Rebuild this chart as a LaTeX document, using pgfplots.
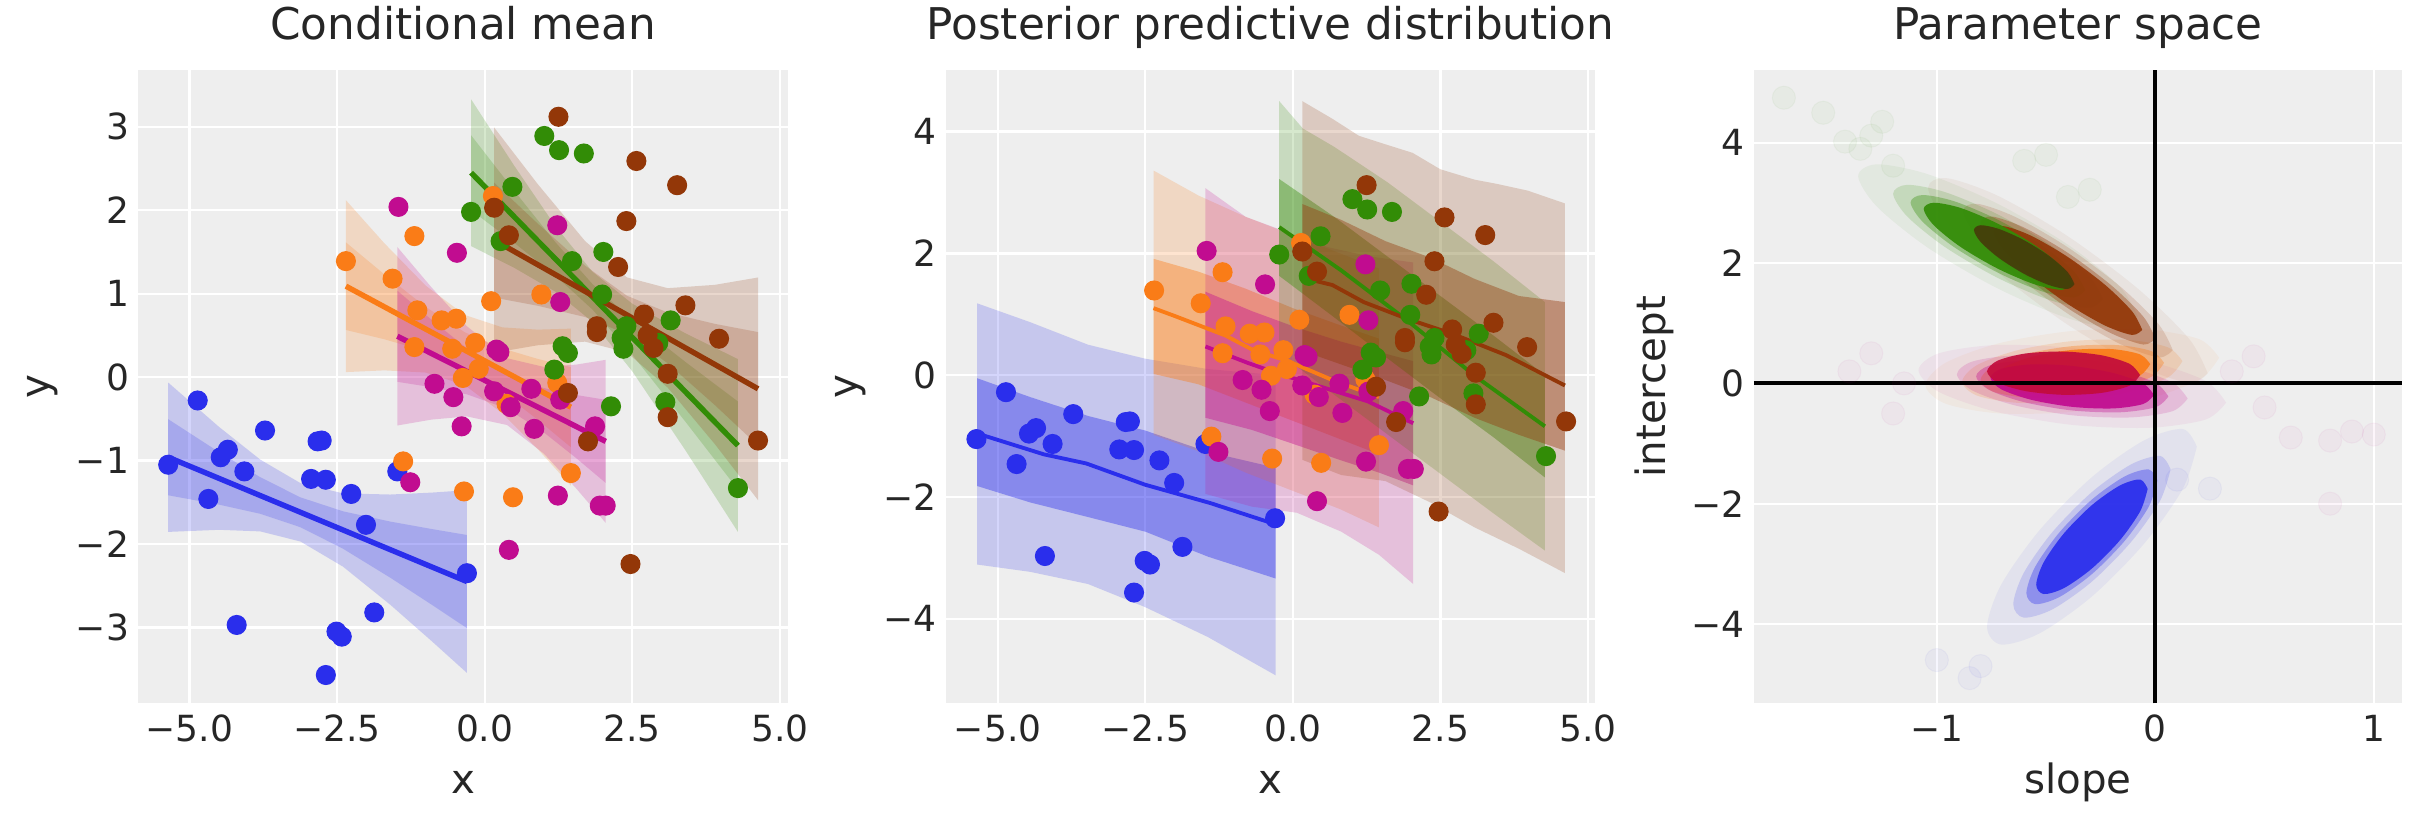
\documentclass[border=0pt]{standalone}
\usepackage{fontspec}
\setmainfont{DejaVu Sans}
\usepackage{pgfplots}
\pgfplotsset{compat=1.18}
\definecolor{c0}{HTML}{2A2EEC}
\definecolor{c1}{HTML}{FA7C17}
\definecolor{c2}{HTML}{328C06}
\definecolor{c3}{HTML}{C10C90}
\definecolor{c4}{HTML}{933708}
\definecolor{bg}{HTML}{EEEEEE}
\definecolor{txt}{HTML}{262626}
\definecolor{olive}{HTML}{463C0A}
\definecolor{redm}{HTML}{C20C3C}
\pgfplotsset{
  base/.style={anchor=south west, scale only axis, height=246.3pt,
    axis background/.style={fill=bg},
    axis line style={draw=none},
    xmajorgrids, ymajorgrids,
    major grid style={white, line width=0.9pt},
    major tick length=0pt,
    tick label style={color=txt, font=\fontsize{14}{17}\selectfont},
    xticklabel style={anchor=base, yshift=-14.9pt},
    title style={at={([yshift=5.8pt]axis description cs:0.5,1)}, anchor=base, color=txt, font=\fontsize{17}{20}\selectfont},
    xlabel style={at={([yshift=-35pt]axis description cs:0.5,0)}, anchor=base, color=txt, font=\fontsize{15.7}{19}\selectfont},
    ylabel style={at={([xshift=-34.5pt]axis description cs:0,0.5)}, anchor=base, color=txt, font=\fontsize{15.7}{19}\selectfont},
  },
  pts/.style={only marks, mark=*, mark size=3.7pt},
  band/.style={draw=none, fill=#1, fill opacity=0.2},
  bandi/.style={draw=none, fill=#1, fill opacity=0.4},
  cl/.style={draw=none, fill=#1, smooth},
}
\begin{document}
\begin{tikzpicture}
\useasboundingbox (0,0) rectangle (942.3pt,320.1pt);
% ================= Panel 1 =================
\begin{axis}[base, at={(53.7pt,46.55pt)}, width=252.8pt,
  xmin=-5.87, xmax=5.14, ymin=-3.91, ymax=3.68,
  xtick={-5,-2.5,0,2.5,5}, xticklabels={−5.0,−2.5,0.0,2.5,5.0},
  ytick={-3,-2,-1,0,1,2,3}, yticklabels={−3,−2,−1,0,1,2,3},
  title={Conditional mean}, xlabel={x}, ylabel={y}]
% blue
\addplot[pts, c0] coordinates {(-5.36,-1.05) (-4.86,-0.28) (-4.68,-1.46) (-4.47,-0.96) (-4.35,-0.87) (-4.07,-1.13) (-4.20,-2.97) (-3.72,-0.64) (-2.94,-1.22) (-2.83,-0.77) (-2.76,-0.76) (-2.69,-1.23) (-2.69,-3.57) (-2.51,-3.05) (-2.42,-3.11) (-2.26,-1.40) (-2.01,-1.77) (-1.87,-2.82) (-1.48,-1.13) (-0.30,-2.35)};
\addplot[band=c0] coordinates {(-5.36,-0.065) (-4.5,-0.596) (-3.8,-0.989) (-3.12,-1.270) (-2.4,-1.393) (-1.6,-1.407) (-0.9,-1.384) (-0.30,-1.355) (-0.30,-3.545) (-0.9,-3.162) (-1.6,-2.727) (-2.4,-2.271) (-3.12,-1.970) (-3.8,-1.849) (-4.5,-1.830) (-5.36,-1.855)};
\addplot[band=c0] coordinates {(-5.36,-0.504) (-4.5,-0.898) (-3.8,-1.200) (-3.12,-1.441) (-2.4,-1.608) (-1.6,-1.731) (-0.9,-1.820) (-0.30,-1.892) (-0.30,-3.008) (-0.9,-2.726) (-1.6,-2.403) (-2.4,-2.056) (-3.12,-1.799) (-3.8,-1.638) (-4.5,-1.528) (-5.36,-1.416)};
% orange
\addplot[pts, c1] coordinates {(-2.35,1.39) (-1.19,1.69) (-1.56,1.18) (-1.14,0.80) (-0.73,0.68) (-0.48,0.70) (-1.19,0.36) (-0.55,0.34) (-0.16,0.41) (-0.10,0.10) (-0.37,-0.01) (0.11,0.91) (0.14,2.17) (0.96,0.99) (1.23,-0.07) (0.37,-0.32) (-1.38,-1.01) (-0.35,-1.37) (0.48,-1.44) (1.46,-1.15)};
\addplot[band=c1] coordinates {(-2.35,2.12) (-1.7,1.605) (-1.0,1.097) (-0.34,0.745) (0.3,0.596) (0.9,0.569) (1.46,0.581) (1.46,-1.301) (0.9,-0.863) (0.3,-0.434) (-0.34,-0.095) (-1.0,0.055) (-1.7,0.081) (-2.35,0.06)};
\addplot[band=c1] coordinates {(-2.35,1.615) (-1.7,1.232) (-1.0,0.842) (-0.34,0.539) (0.3,0.344) (0.9,0.218) (1.46,0.120) (1.46,-0.840) (0.9,-0.512) (0.3,-0.182) (-0.34,0.111) (-1.0,0.310) (-1.7,0.454) (-2.35,0.565)};
% magenta
\addplot[pts, c3] coordinates {(-1.46,2.04) (-0.47,1.49) (1.23,1.82) (1.28,0.90) (0.20,0.33) (0.25,0.30) (-0.85,-0.08) (-0.53,-0.24) (0.16,-0.17) (0.79,-0.14) (0.44,-0.36) (-0.39,-0.59) (0.84,-0.62) (1.28,-0.27) (1.87,-0.59) (1.24,-1.42) (2.05,-1.54) (1.95,-1.54) (-1.26,-1.26) (0.41,-2.07)};
\addplot[band=c3] coordinates {(-1.48,1.56) (-0.9,1.075) (-0.3,0.609) (0.38,0.226) (1.0,0.123) (1.55,0.150) (2.05,0.207) (2.05,-1.747) (1.55,-1.334) (1.0,-0.915) (0.38,-0.574) (-0.3,-0.471) (-0.9,-0.509) (-1.48,-0.58)};
\addplot[band=c3] coordinates {(-1.48,1.036) (-0.9,0.687) (-0.3,0.344) (0.38,0.030) (1.0,-0.131) (1.55,-0.214) (2.05,-0.272) (2.05,-1.268) (1.55,-0.970) (1.0,-0.661) (0.38,-0.378) (-0.3,-0.206) (-0.9,-0.121) (-1.48,-0.056)};
% green
\addplot[pts, c2] coordinates {(1.01,2.89) (1.26,2.72) (1.68,2.68) (0.47,2.28) (-0.23,1.98) (0.27,1.63) (1.48,1.39) (2.01,1.50) (1.99,0.99) (2.40,0.61) (3.15,0.68) (2.32,0.47) (2.35,0.34) (1.32,0.37) (1.41,0.29) (1.18,0.09) (2.94,0.41) (2.14,-0.35) (3.06,-0.30) (4.29,-1.33)};
\addplot[band=c2] coordinates {(-0.23,3.33) (0.5,2.534) (1.2,1.807) (1.825,1.263) (2.5,0.880) (3.4,0.525) (4.29,0.216) (4.29,-1.856) (3.4,-0.877) (2.5,0.070) (1.825,0.663) (1.2,1.023) (0.5,1.310) (-0.23,1.57)};
\addplot[band=c2] coordinates {(-0.23,2.899) (0.5,2.234) (1.2,1.615) (1.825,1.116) (2.5,0.682) (3.4,0.182) (4.29,-0.292) (4.29,-1.348) (3.4,-0.534) (2.5,0.268) (1.825,0.810) (1.2,1.215) (0.5,1.610) (-0.23,2.001)};
% brown
\addplot[pts, c4] coordinates {(1.25,3.12) (2.57,2.59) (3.26,2.30) (2.40,1.87) (0.16,2.03) (0.41,1.70) (2.26,1.32) (3.40,0.86) (2.70,0.75) (1.90,0.61) (1.90,0.54) (2.76,0.50) (2.86,0.35) (3.97,0.46) (3.10,0.04) (1.41,-0.19) (1.75,-0.77) (3.10,-0.48) (4.63,-0.76) (2.47,-2.24)};
\addplot[band=c4] coordinates {(0.16,2.992) (0.9,2.312) (1.7,1.631) (2.41,1.195) (3.1,1.066) (3.9,1.106) (4.63,1.194) (4.63,-1.474) (3.9,-0.804) (3.1,-0.126) (2.41,0.295) (1.7,0.425) (0.9,0.382) (0.16,0.292)};
\addplot[band=c4] coordinates {(0.16,2.331) (0.9,1.839) (1.7,1.336) (2.41,0.975) (3.1,0.774) (3.9,0.638) (4.63,0.540) (4.63,-0.820) (3.9,-0.336) (3.1,0.166) (2.41,0.515) (1.7,0.720) (0.9,0.855) (0.16,0.953)};
% mean lines
\addplot[c0, line width=2.1pt] coordinates {(-5.36,-0.96) (-0.30,-2.45)};
\addplot[c1, line width=2.1pt] coordinates {(-2.35,1.09) (1.46,-0.36)};
\addplot[c3, line width=2.1pt] coordinates {(-1.48,0.49) (2.05,-0.77)};
\addplot[c2, line width=2.1pt] coordinates {(-0.23,2.45) (4.29,-0.82)};
\addplot[c4, line width=2.1pt] coordinates {(0.14,1.65) (4.63,-0.14)};
\end{axis}
% ================= Panel 2 =================
\begin{axis}[base, at={(367.8pt,46.55pt)}, width=252.5pt,
  xmin=-5.88, xmax=5.12, ymin=-5.39, ymax=5.01,
  xtick={-5,-2.5,0,2.5,5}, xticklabels={−5.0,−2.5,0.0,2.5,5.0},
  ytick={-4,-2,0,2,4}, yticklabels={−4,−2,0,2,4},
  title={Posterior predictive distribution}, xlabel={x}, ylabel={y}]
% blue
\addplot[pts, c0] coordinates {(-5.36,-1.05) (-4.86,-0.28) (-4.68,-1.46) (-4.47,-0.96) (-4.35,-0.87) (-4.07,-1.13) (-4.20,-2.97) (-3.72,-0.64) (-2.94,-1.22) (-2.83,-0.77) (-2.76,-0.76) (-2.69,-1.23) (-2.69,-3.57) (-2.51,-3.05) (-2.42,-3.11) (-2.26,-1.40) (-2.01,-1.77) (-1.87,-2.82) (-1.48,-1.13) (-0.30,-2.35)};
\addplot[band=c0] coordinates {(-5.35,1.18) (-4.45,0.87) (-3.47,0.50) (-2.5,0.27) (-1.44,0.10) (-0.29,0.00) (-0.29,-4.93) (-1.44,-4.30) (-2.5,-3.81) (-3.47,-3.43) (-4.45,-3.23) (-5.35,-3.11)};
\addplot[bandi=c0] coordinates {(-5.35,-0.05) (-4.45,-0.36) (-3.47,-0.67) (-2.5,-0.91) (-1.44,-1.26) (-0.29,-1.52) (-0.29,-3.34) (-1.44,-2.98) (-2.5,-2.57) (-3.47,-2.33) (-4.45,-2.09) (-5.35,-1.82)};
% orange
\addplot[pts, c1] coordinates {(-2.35,1.39) (-1.19,1.69) (-1.56,1.18) (-1.14,0.80) (-0.73,0.68) (-0.48,0.70) (-1.19,0.36) (-0.55,0.34) (-0.16,0.41) (-0.10,0.10) (-0.37,-0.01) (0.11,0.91) (0.14,2.17) (0.96,0.99) (1.23,-0.07) (0.37,-0.32) (-1.38,-1.01) (-0.35,-1.37) (0.48,-1.44) (1.46,-1.15)};
\addplot[band=c1] coordinates {(-2.36,3.36) (-1.6,2.95) (-0.8,2.60) (0,2.30) (0.8,2.00) (1.46,1.75) (1.46,-2.50) (0.8,-2.20) (0,-1.90) (-0.8,-1.60) (-1.6,-1.25) (-2.36,-0.98)};
\addplot[bandi=c1] coordinates {(-2.36,1.91) (-1.6,1.70) (-0.8,1.42) (0,1.10) (0.8,0.82) (1.46,0.60) (1.46,-1.30) (0.8,-1.05) (0,-0.75) (-0.8,-0.45) (-1.6,-0.15) (-2.36,0.02)};
% magenta
\addplot[pts, c3] coordinates {(-1.46,2.04) (-0.47,1.49) (1.23,1.82) (1.28,0.90) (0.20,0.33) (0.25,0.30) (-0.85,-0.08) (-0.53,-0.24) (0.16,-0.17) (0.79,-0.14) (0.44,-0.36) (-0.39,-0.59) (0.84,-0.62) (1.28,-0.27) (1.87,-0.59) (1.24,-1.42) (2.05,-1.54) (1.95,-1.54) (-1.26,-1.26) (0.41,-2.07)};
\addplot[band=c3] coordinates {(-1.48,3.07) (-0.8,2.60) (-0.1,2.35) (0.6,2.10) (1.3,1.95) (2.04,1.85) (2.04,-3.43) (1.46,-2.95) (0.82,-2.57) (0.07,-2.26) (-0.69,-2.16) (-1.48,-1.95)};
\addplot[bandi=c3] coordinates {(-1.48,1.37) (-0.69,1.05) (0.07,0.78) (0.82,0.55) (1.46,0.38) (2.04,0.23) (2.04,-1.81) (1.46,-1.60) (0.82,-1.40) (0.07,-1.15) (-0.69,-0.90) (-1.48,-0.70)};
% green
\addplot[pts, c2] coordinates {(1.01,2.89) (1.26,2.72) (1.68,2.68) (0.47,2.28) (-0.23,1.98) (0.27,1.63) (1.48,1.39) (2.01,1.50) (1.99,0.99) (2.40,0.61) (3.15,0.68) (2.32,0.47) (2.35,0.34) (1.32,0.37) (1.41,0.29) (1.18,0.09) (2.94,0.41) (2.14,-0.35) (3.06,-0.30) (4.29,-1.33)};
\addplot[band=c2] coordinates {(-0.23,4.50) (0.17,4.05) (0.7,3.75) (1.6,3.17) (2.5,2.52) (3.4,1.87) (4.27,1.20) (4.27,-2.88) (3.4,-2.27) (2.5,-1.62) (1.6,-0.97) (0.7,-0.32) (-0.23,0.36)};
\addplot[bandi=c2] coordinates {(-0.23,3.22) (0.7,2.60) (1.6,1.95) (2.5,1.30) (3.4,0.65) (4.27,0.00) (4.27,-1.68) (3.4,-1.02) (2.5,-0.38) (1.6,0.28) (0.7,0.95) (-0.23,1.63)};
% brown
\addplot[pts, c4] coordinates {(1.25,3.12) (2.57,2.59) (3.26,2.30) (2.40,1.87) (0.16,2.03) (0.41,1.70) (2.26,1.32) (3.40,0.86) (2.70,0.75) (1.90,0.61) (1.90,0.54) (2.76,0.50) (2.86,0.35) (3.97,0.46) (3.10,0.04) (1.41,-0.19) (1.75,-0.77) (3.10,-0.48) (4.63,-0.76) (2.47,-2.24)};
\addplot[band=c4] coordinates {(0.16,4.50) (0.67,4.21) (1.12,3.93) (1.57,3.79) (2.03,3.65) (2.50,3.38) (3.08,3.21) (3.46,3.14) (3.98,3.03) (4.61,2.82) (4.61,-3.25) (3.83,-2.85) (3.08,-2.50) (2.33,-2.09) (1.57,-1.74) (0.82,-1.64) (0.16,-1.39)};
\addplot[bandi=c4] coordinates {(0.16,2.81) (0.82,2.55) (1.57,2.20) (2.33,1.93) (3.08,1.58) (3.83,1.30) (4.61,1.20) (4.61,-1.24) (3.83,-0.98) (3.08,-0.70) (2.33,-0.36) (1.57,-0.08) (0.16,0.40)};
% mean lines
\addplot[c0, line width=1.5pt] coordinates {(-5.34,-0.96) (-4.22,-1.30) (-3.5,-1.45) (-2.5,-1.80) (-1.4,-2.10) (-0.29,-2.45)};
\addplot[c1, line width=1.5pt] coordinates {(-2.36,1.10) (-1.97,0.96) (-1.14,0.65) (-0.69,0.42) (-0.08,0.23) (0.67,-0.08) (1.46,-0.36)};
\addplot[c3, line width=1.5pt] coordinates {(-1.48,0.47) (-0.76,0.20) (-0.23,0.02) (0.44,-0.18) (1.27,-0.43) (2.04,-0.79)};
\addplot[c2, line width=1.5pt] coordinates {(-0.23,2.43) (0.82,1.72) (1.95,0.89) (3.08,-0.01) (4.27,-0.84)};
\addplot[c4, line width=1.5pt] coordinates {(0.16,1.60) (0.67,1.48) (1.20,1.20) (1.95,0.92) (2.70,0.68) (3.61,0.33) (4.61,-0.17)};
\end{axis}
% ================= Panel 3 =================
\begin{axis}[base, at={(682.1pt,46.55pt)}, width=252.1pt,
  xmin=-1.837, xmax=1.13, ymin=-5.32, ymax=5.21,
  xtick={-1,0,1}, xticklabels={−1,0,1},
  ytick={-4,-2,0,2,4}, yticklabels={−4,−2,0,2,4},
  title={Parameter space}, xlabel={slope}, ylabel={intercept}]
% outer halos
\addplot[cl=c0, fill opacity=0.06] coordinates {(0.19,-1.052) (0.126,-0.758) (-0.05,-0.944) (-0.29,-1.558) (-0.53,-2.441) (-0.706,-3.35) (-0.77,-4.048) (-0.706,-4.342) (-0.53,-4.156) (-0.29,-3.542) (-0.05,-2.659) (0.126,-1.75) (0.19,-1.052)};
\addplot[cl=c1, fill opacity=0.06] coordinates {(0.292,0.427) (0.202,0.734) (-0.044,0.898) (-0.38,0.872) (-0.716,0.667) (-0.962,0.338) (-1.052,-0.027) (-0.962,-0.334) (-0.716,-0.498) (-0.38,-0.472) (-0.044,-0.267) (0.202,0.062) (0.292,0.427)};
\addplot[cl=c3, fill opacity=0.06] coordinates {(0.324,-0.319) (0.231,0.040) (-0.028,0.369) (-0.38,0.59) (-0.732,0.638) (-0.991,0.500) (-1.084,0.219) (-0.991,-0.140) (-0.732,-0.469) (-0.38,-0.69) (-0.028,-0.738) (0.231,-0.600) (0.324,-0.319)};
\addplot[cl=c4, fill opacity=0.06] coordinates {(0.24,0.168) (0.154,0.744) (-0.08,1.576) (-0.40,2.446) (-0.72,3.118) (-0.954,3.412) (-1.04,3.252) (-0.954,2.676) (-0.72,1.844) (-0.40,0.974) (-0.08,0.302) (0.154,0.008) (0.24,0.168)};
\addplot[cl=c2, fill opacity=0.06] coordinates {(-0.08,1.112) (-0.166,1.621) (-0.40,2.306) (-0.72,2.984) (-1.04,3.477) (-1.274,3.643) (-1.36,3.448) (-1.274,2.939) (-1.04,2.254) (-0.72,1.576) (-0.40,1.083) (-0.166,0.917) (-0.08,1.112)};
% sparse outliers
\addplot[only marks, mark=*, mark size=4.5pt, c2, opacity=0.04] coordinates {(-1.70,4.75) (-1.52,4.50) (-1.42,4.02) (-1.30,4.12) (-1.25,4.35) (-1.35,3.90) (-1.20,3.62) (-0.60,3.70) (-0.40,3.10) (-0.30,3.22) (-0.50,3.80)};
\addplot[only marks, mark=*, mark size=4.5pt, c3, opacity=0.04] coordinates {(0.50,-0.40) (0.62,-0.90) (0.80,-0.95) (0.90,-0.80) (1.00,-0.85) (0.80,-2.00) (0.45,0.45) (0.35,0.20) (-1.40,0.20) (-1.30,0.50) (-1.20,-0.50) (-1.15,0.00)};
\addplot[only marks, mark=*, mark size=4.5pt, c0, opacity=0.04] coordinates {(-1.00,-4.60) (-0.85,-4.90) (-0.80,-4.70) (0.10,-1.60) (0.25,-1.75)};
% middle halos
\addplot[cl=c0, fill opacity=0.16] coordinates {(0.07,-1.427) (0.022,-1.206) (-0.11,-1.345) (-0.29,-1.806) (-0.47,-2.468) (-0.602,-3.15) (-0.65,-3.673) (-0.602,-3.894) (-0.47,-3.755) (-0.29,-3.294) (-0.11,-2.632) (0.022,-1.95) (0.07,-1.427)};
\addplot[cl=c1, fill opacity=0.16] coordinates {(0.124,0.370) (0.057,0.601) (-0.128,0.723) (-0.38,0.704) (-0.632,0.550) (-0.817,0.303) (-0.884,0.030) (-0.817,-0.201) (-0.632,-0.323) (-0.38,-0.304) (-0.128,-0.150) (0.057,0.097) (0.124,0.370)};
\addplot[cl=c3, fill opacity=0.16] coordinates {(0.148,-0.252) (0.078,0.017) (-0.116,0.264) (-0.38,0.43) (-0.644,0.466) (-0.838,0.363) (-0.908,0.152) (-0.838,-0.117) (-0.644,-0.364) (-0.38,-0.53) (-0.116,-0.566) (0.078,-0.463) (0.148,-0.252)};
\addplot[cl=c4, fill opacity=0.16] coordinates {(0.08,0.553) (0.015,0.985) (-0.16,1.609) (-0.40,2.262) (-0.64,2.766) (-0.815,2.987) (-0.88,2.867) (-0.815,2.435) (-0.64,1.811) (-0.40,1.158) (-0.16,0.654) (0.015,0.433) (0.08,0.553)};
\addplot[cl=c2, fill opacity=0.16] coordinates {(-0.24,1.404) (-0.305,1.786) (-0.48,2.299) (-0.72,2.808) (-0.96,3.178) (-1.135,3.302) (-1.2,3.156) (-1.135,2.774) (-0.96,2.261) (-0.72,1.752) (-0.48,1.382) (-0.305,1.258) (-0.24,1.404)};
% inner halos
\addplot[cl=c0, fill opacity=0.35] coordinates {(0.01,-1.614) (-0.03,-1.43) (-0.14,-1.546) (-0.29,-1.93) (-0.44,-2.482) (-0.55,-3.05) (-0.59,-3.486) (-0.55,-3.67) (-0.44,-3.554) (-0.29,-3.17) (-0.14,-2.618) (-0.03,-2.05) (0.01,-1.614)};
\addplot[cl=c1, fill opacity=0.35] coordinates {(0.04,0.342) (-0.016,0.534) (-0.17,0.636) (-0.38,0.62) (-0.59,0.492) (-0.744,0.286) (-0.8,0.058) (-0.744,-0.134) (-0.59,-0.236) (-0.38,-0.22) (-0.17,-0.092) (-0.016,0.114) (0.04,0.342)};
\addplot[cl=c3, fill opacity=0.35] coordinates {(0.06,-0.218) (0.002,0.006) (-0.16,0.212) (-0.38,0.35) (-0.6,0.38) (-0.762,0.294) (-0.82,0.118) (-0.762,-0.106) (-0.6,-0.312) (-0.38,-0.45) (-0.16,-0.48) (0.002,-0.394) (0.06,-0.218)};
\addplot[cl=c4, fill opacity=0.35] coordinates {(0.0,0.746) (-0.054,1.106) (-0.2,1.626) (-0.4,2.17) (-0.6,2.59) (-0.746,2.774) (-0.8,2.674) (-0.746,2.314) (-0.6,1.794) (-0.4,1.25) (-0.2,0.83) (-0.054,0.646) (0.0,0.746)};
\addplot[cl=c2, fill opacity=0.35] coordinates {(-0.32,1.55) (-0.374,1.868) (-0.52,2.296) (-0.72,2.72) (-0.92,3.028) (-1.066,3.132) (-1.12,3.01) (-1.066,2.692) (-0.92,2.264) (-0.72,1.84) (-0.52,1.532) (-0.374,1.428) (-0.32,1.55)};
% cores
\addplot[cl=c0, fill opacity=0.92] coordinates {(-0.035,-1.754) (-0.069,-1.598) (-0.162,-1.697) (-0.29,-2.023) (-0.418,-2.492) (-0.511,-2.975) (-0.545,-3.346) (-0.511,-3.502) (-0.418,-3.403) (-0.29,-3.077) (-0.162,-2.608) (-0.069,-2.125) (-0.035,-1.754)};
\addplot[cl=c1, fill opacity=0.92] coordinates {(-0.023,0.321) (-0.071,0.484) (-0.201,0.571) (-0.38,0.557) (-0.559,0.448) (-0.689,0.273) (-0.737,0.079) (-0.689,-0.084) (-0.559,-0.171) (-0.38,-0.157) (-0.201,-0.048) (-0.071,0.127) (-0.023,0.321)};
\addplot[cl=c3, fill opacity=0.92] coordinates {(-0.006,-0.193) (-0.055,-0.002) (-0.193,0.173) (-0.38,0.29) (-0.567,0.316) (-0.705,0.242) (-0.754,0.093) (-0.705,-0.098) (-0.567,-0.273) (-0.38,-0.39) (-0.193,-0.416) (-0.055,-0.342) (-0.006,-0.193)};
\addplot[cl=redm, fill opacity=0.92] coordinates {(-0.07,0.14) (-0.117,0.324) (-0.245,0.467) (-0.42,0.53) (-0.595,0.497) (-0.723,0.376) (-0.77,0.20) (-0.723,0.016) (-0.595,-0.127) (-0.42,-0.19) (-0.245,-0.157) (-0.117,-0.036) (-0.07,0.14)};
\addplot[cl=c4, fill opacity=0.92] coordinates {(-0.06,0.891) (-0.106,1.197) (-0.23,1.639) (-0.40,2.101) (-0.57,2.458) (-0.694,2.614) (-0.74,2.529) (-0.694,2.223) (-0.57,1.781) (-0.40,1.319) (-0.23,0.962) (-0.106,0.806) (-0.06,0.891)};
\addplot[cl=c2, fill opacity=0.92] coordinates {(-0.38,1.659) (-0.426,1.93) (-0.55,2.294) (-0.72,2.654) (-0.89,2.916) (-1.014,3.004) (-1.06,2.901) (-1.014,2.63) (-0.89,2.266) (-0.72,1.906) (-0.55,1.644) (-0.426,1.556) (-0.38,1.659)};
\addplot[cl=olive, fill opacity=0.92] coordinates {(-0.37,1.65) (-0.401,1.85) (-0.485,2.117) (-0.6,2.38) (-0.715,2.567) (-0.799,2.63) (-0.83,2.55) (-0.799,2.35) (-0.715,2.083) (-0.6,1.82) (-0.485,1.633) (-0.401,1.57) (-0.37,1.65)};
% reference lines
\addplot[black, line width=1.6pt] coordinates {(0,-5.32) (0,5.21)};
\addplot[black, line width=1.6pt] coordinates {(-1.837,0) (1.13,0)};
\end{axis}
\end{tikzpicture}
\end{document}
